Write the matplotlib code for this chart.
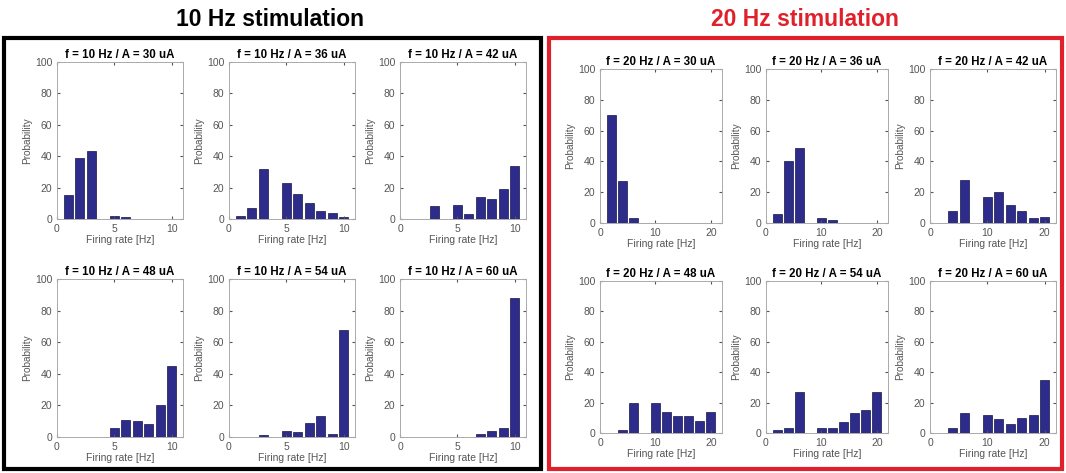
import matplotlib
matplotlib.use("Agg")
import matplotlib.pyplot as plt
from matplotlib.patches import Rectangle
import numpy as np

plt.rcParams['font.family'] = ['Liberation Sans', 'DejaVu Sans']

W, H = 1066, 473

# firing-rate bins
rates_10 = [1, 2, 3, 4, 5, 6, 7, 8, 9, 10]
rates_20 = [2, 4, 6, 8, 10, 12, 14, 16, 18, 20]

amps = [30, 36, 42, 48, 54, 60]

# probabilities (%) for 10 Hz stimulation, one list per amplitude
p10_30 = [15, 39, 43, 0, 2, 1, 0, 0, 0, 0]
p10_36 = [2, 7, 32, 0, 23, 16, 10, 5, 4, 1]
p10_42 = [0, 0, 8, 0, 9, 3, 14, 13, 19, 34]
p10_48 = [0, 0, 0, 0, 6, 11, 10, 8, 20, 45]
p10_54 = [0, 0, 1, 0, 4, 3, 9, 13, 2, 68]
p10_60 = [0, 0, 0, 0, 0, 0, 2, 4, 6, 88]

# probabilities (%) for 20 Hz stimulation
p20_30 = [70, 27, 3, 0, 0, 0, 0, 0, 0, 0]
p20_36 = [6, 40, 49, 0, 3, 2, 0, 0, 0, 0]
p20_42 = [0, 8, 28, 0, 17, 20, 12, 8, 3, 4]
p20_48 = [0, 2, 20, 0, 20, 14, 11, 11, 8, 14]
p20_54 = [2, 3, 27, 0, 3, 3, 7, 13, 15, 27]
p20_60 = [0, 3, 13, 0, 12, 9, 6, 10, 12, 35]

data10 = [p10_30, p10_36, p10_42, p10_48, p10_54, p10_60]
data20 = [p20_30, p20_36, p20_42, p20_48, p20_54, p20_60]

bar_col = "#2d2c8a"
grey = "#555555"

fig = plt.figure(figsize=(W / 100, H / 100), dpi=100)


def px(x0, y0, x1, y1):
    return [x0 / W, 1 - y1 / H, (x1 - x0) / W, (y1 - y0) / H]


def panel(rect, rates, vals, f, amp, xmax, xt):
    ax = fig.add_axes(px(*rect))
    width = 0.8 * (rates[1] - rates[0])
    ax.bar(rates, vals, width=width, color=bar_col, edgecolor="#15154a", linewidth=0.5)
    ax.set_xlim(0, xmax)
    ax.set_ylim(0, 100)
    ax.set_xticks(xt)
    ax.set_yticks([0, 20, 40, 60, 80, 100])
    ax.tick_params(direction="in", length=2, labelsize=7.5, colors=grey,
                   top=True, right=True, pad=3.5)
    for s in ax.spines.values():
        s.set_color("#aaaaaa")
        s.set_linewidth(0.7)
    ax.set_title("f = %d Hz / A = %d uA" % (f, amp), fontsize=8.3,
                 fontweight="bold", pad=3)
    ax.set_xlabel("Firing rate [Hz]", fontsize=7.5, color=grey, labelpad=1)
    ax.set_ylabel("Probability", fontsize=7.2, color=grey, labelpad=2)
    return ax


# left group (10 Hz)
cols10 = [(57, 183), (229, 355), (400, 526)]
rows10 = [(62, 219), (279, 437)]
for i, vals in enumerate(data10):
    r, c = divmod(i, 3)
    panel((cols10[c][0], rows10[r][0], cols10[c][1], rows10[r][1]),
          rates_10, vals, 10, amps[i], 11, [0, 5, 10])

# right group (20 Hz)
cols20 = [(600, 722), (766, 888), (930, 1056)]
rows20 = [(69, 223), (281, 433)]
for i, vals in enumerate(data20):
    r, c = divmod(i, 3)
    panel((cols20[c][0], rows20[r][0], cols20[c][1], rows20[r][1]),
          rates_20, vals, 20, amps[i], 22, [0, 10, 20])

# frames around the groups
fig.patches.append(Rectangle((4 / W, 1 - 469 / H), 537 / W, 431 / H,
                             transform=fig.transFigure, fill=False,
                             edgecolor="black", linewidth=3))
fig.patches.append(Rectangle((549 / W, 1 - 469 / H), 513 / W, 431 / H,
                             transform=fig.transFigure, fill=False,
                             edgecolor="#e0202a", linewidth=3))

fig.text(270 / W, 1 - 19 / H, "10 Hz stimulation", ha="center", va="center",
         fontsize=16.5, fontweight="bold", color="black")
fig.text(805 / W, 1 - 19 / H, "20 Hz stimulation", ha="center", va="center",
         fontsize=16.5, fontweight="bold", color="#e0202a")

fig.savefig("out.png", dpi=100)
